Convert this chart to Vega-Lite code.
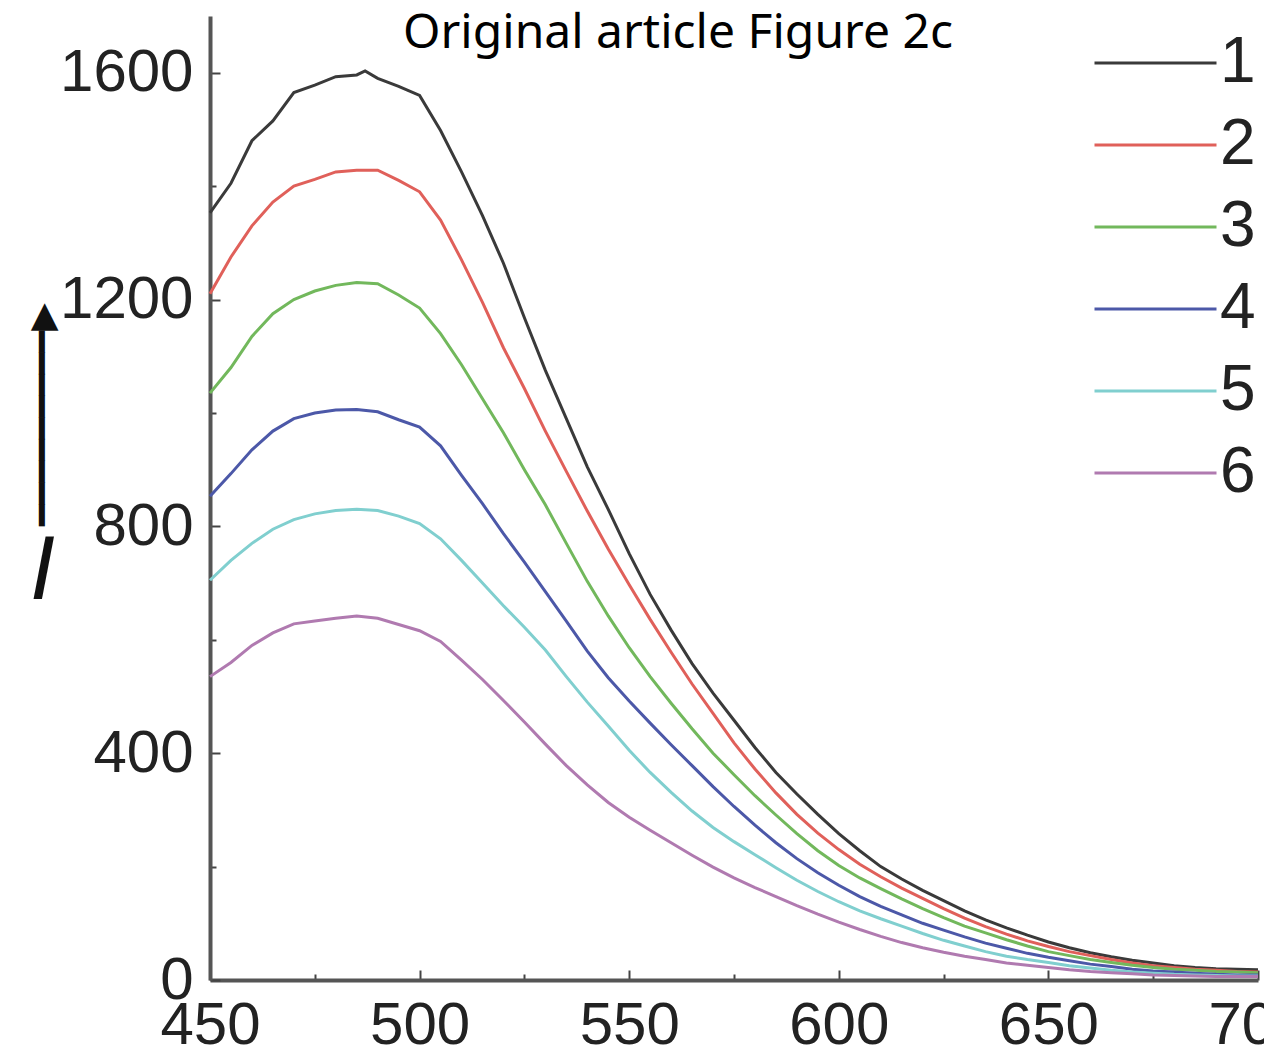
{
  "$schema": "https://vega.github.io/schema/vega-lite/v6.json",
  "width": 1048,
  "height": 964,
  "autosize": {"type": "none"},
  "padding": {"left": 210, "top": 16, "right": 6, "bottom": 65},
  "background": "white",
  "title": {
    "text": "Original article Figure 2c",
    "font": "Noto Sans",
    "fontSize": 48,
    "fontWeight": "normal",
    "color": "#000000",
    "anchor": "middle",
    "offset": 0,
    "dx": -56,
    "dy": 42
  },
  "config": {
    "view": {"stroke": null},
    "axis": {
      "labelFont": "Liberation Sans",
      "labelFontSize": 60,
      "labelColor": "#222222",
      "domainColor": "#555555",
      "domainWidth": 4,
      "tickColor": "#444444",
      "tickWidth": 2,
      "grid": false
    }
  },
  "data": {
    "values": [
      {"s":"1","w":450,"v":1353},{"s":"1","w":455,"v":1405},{"s":"1","w":460,"v":1480},{"s":"1","w":465,"v":1515},{"s":"1","w":470,"v":1565},{"s":"1","w":475,"v":1578},{"s":"1","w":480,"v":1593},{"s":"1","w":485,"v":1596},{"s":"1","w":487,"v":1603},{"s":"1","w":490,"v":1590},{"s":"1","w":495,"v":1576},{"s":"1","w":500,"v":1560},{"s":"1","w":505,"v":1498},{"s":"1","w":510,"v":1425},{"s":"1","w":515,"v":1348},{"s":"1","w":520,"v":1264},{"s":"1","w":525,"v":1168},{"s":"1","w":530,"v":1075},{"s":"1","w":535,"v":990},{"s":"1","w":540,"v":905},{"s":"1","w":545,"v":830},{"s":"1","w":550,"v":752},{"s":"1","w":555,"v":680},{"s":"1","w":560,"v":617},{"s":"1","w":565,"v":558},{"s":"1","w":570,"v":506},{"s":"1","w":575,"v":458},{"s":"1","w":580,"v":410},{"s":"1","w":585,"v":366},{"s":"1","w":590,"v":328},{"s":"1","w":595,"v":292},{"s":"1","w":600,"v":258},{"s":"1","w":605,"v":228},{"s":"1","w":610,"v":200},{"s":"1","w":615,"v":178},{"s":"1","w":620,"v":158},{"s":"1","w":625,"v":140},{"s":"1","w":630,"v":122},{"s":"1","w":635,"v":106},{"s":"1","w":640,"v":92},{"s":"1","w":645,"v":79},{"s":"1","w":650,"v":67},{"s":"1","w":655,"v":57},{"s":"1","w":660,"v":48},{"s":"1","w":665,"v":41},{"s":"1","w":670,"v":35},{"s":"1","w":675,"v":30},{"s":"1","w":680,"v":25},{"s":"1","w":685,"v":22},{"s":"1","w":690,"v":20},{"s":"1","w":695,"v":19},{"s":"1","w":700,"v":18},
      {"s":"2","w":450,"v":1210},{"s":"2","w":455,"v":1275},{"s":"2","w":460,"v":1330},{"s":"2","w":465,"v":1372},{"s":"2","w":470,"v":1400},{"s":"2","w":475,"v":1412},{"s":"2","w":480,"v":1425},{"s":"2","w":485,"v":1428},{"s":"2","w":490,"v":1428},{"s":"2","w":495,"v":1410},{"s":"2","w":500,"v":1390},{"s":"2","w":505,"v":1340},{"s":"2","w":510,"v":1270},{"s":"2","w":515,"v":1195},{"s":"2","w":520,"v":1115},{"s":"2","w":525,"v":1043},{"s":"2","w":530,"v":968},{"s":"2","w":535,"v":897},{"s":"2","w":540,"v":827},{"s":"2","w":545,"v":760},{"s":"2","w":550,"v":697},{"s":"2","w":555,"v":636},{"s":"2","w":560,"v":578},{"s":"2","w":565,"v":522},{"s":"2","w":570,"v":470},{"s":"2","w":575,"v":418},{"s":"2","w":580,"v":372},{"s":"2","w":585,"v":330},{"s":"2","w":590,"v":292},{"s":"2","w":595,"v":259},{"s":"2","w":600,"v":230},{"s":"2","w":605,"v":204},{"s":"2","w":610,"v":182},{"s":"2","w":615,"v":162},{"s":"2","w":620,"v":144},{"s":"2","w":625,"v":126},{"s":"2","w":630,"v":109},{"s":"2","w":635,"v":94},{"s":"2","w":640,"v":81},{"s":"2","w":645,"v":69},{"s":"2","w":650,"v":59},{"s":"2","w":655,"v":50},{"s":"2","w":660,"v":43},{"s":"2","w":665,"v":36},{"s":"2","w":670,"v":30},{"s":"2","w":675,"v":25},{"s":"2","w":680,"v":22},{"s":"2","w":685,"v":19},{"s":"2","w":690,"v":17},{"s":"2","w":695,"v":15},{"s":"2","w":700,"v":14},
      {"s":"3","w":450,"v":1035},{"s":"3","w":455,"v":1080},{"s":"3","w":460,"v":1135},{"s":"3","w":465,"v":1175},{"s":"3","w":470,"v":1200},{"s":"3","w":475,"v":1215},{"s":"3","w":480,"v":1225},{"s":"3","w":485,"v":1230},{"s":"3","w":490,"v":1228},{"s":"3","w":495,"v":1208},{"s":"3","w":500,"v":1185},{"s":"3","w":505,"v":1140},{"s":"3","w":510,"v":1085},{"s":"3","w":515,"v":1025},{"s":"3","w":520,"v":965},{"s":"3","w":525,"v":900},{"s":"3","w":530,"v":838},{"s":"3","w":535,"v":770},{"s":"3","w":540,"v":703},{"s":"3","w":545,"v":642},{"s":"3","w":550,"v":586},{"s":"3","w":555,"v":535},{"s":"3","w":560,"v":488},{"s":"3","w":565,"v":443},{"s":"3","w":570,"v":400},{"s":"3","w":575,"v":362},{"s":"3","w":580,"v":325},{"s":"3","w":585,"v":291},{"s":"3","w":590,"v":258},{"s":"3","w":595,"v":228},{"s":"3","w":600,"v":202},{"s":"3","w":605,"v":180},{"s":"3","w":610,"v":161},{"s":"3","w":615,"v":143},{"s":"3","w":620,"v":126},{"s":"3","w":625,"v":110},{"s":"3","w":630,"v":95},{"s":"3","w":635,"v":83},{"s":"3","w":640,"v":71},{"s":"3","w":645,"v":60},{"s":"3","w":650,"v":50},{"s":"3","w":655,"v":43},{"s":"3","w":660,"v":36},{"s":"3","w":665,"v":31},{"s":"3","w":670,"v":26},{"s":"3","w":675,"v":22},{"s":"3","w":680,"v":19},{"s":"3","w":685,"v":17},{"s":"3","w":690,"v":15},{"s":"3","w":695,"v":14},{"s":"3","w":700,"v":13},
      {"s":"4","w":450,"v":853},{"s":"4","w":455,"v":893},{"s":"4","w":460,"v":935},{"s":"4","w":465,"v":968},{"s":"4","w":470,"v":990},{"s":"4","w":475,"v":1000},{"s":"4","w":480,"v":1005},{"s":"4","w":485,"v":1006},{"s":"4","w":490,"v":1002},{"s":"4","w":495,"v":988},{"s":"4","w":500,"v":975},{"s":"4","w":505,"v":942},{"s":"4","w":510,"v":890},{"s":"4","w":515,"v":840},{"s":"4","w":520,"v":787},{"s":"4","w":525,"v":737},{"s":"4","w":530,"v":685},{"s":"4","w":535,"v":633},{"s":"4","w":540,"v":580},{"s":"4","w":545,"v":533},{"s":"4","w":550,"v":492},{"s":"4","w":555,"v":453},{"s":"4","w":560,"v":415},{"s":"4","w":565,"v":378},{"s":"4","w":570,"v":341},{"s":"4","w":575,"v":306},{"s":"4","w":580,"v":273},{"s":"4","w":585,"v":242},{"s":"4","w":590,"v":214},{"s":"4","w":595,"v":189},{"s":"4","w":600,"v":167},{"s":"4","w":605,"v":147},{"s":"4","w":610,"v":130},{"s":"4","w":615,"v":115},{"s":"4","w":620,"v":100},{"s":"4","w":625,"v":88},{"s":"4","w":630,"v":76},{"s":"4","w":635,"v":65},{"s":"4","w":640,"v":56},{"s":"4","w":645,"v":47},{"s":"4","w":650,"v":40},{"s":"4","w":655,"v":34},{"s":"4","w":660,"v":28},{"s":"4","w":665,"v":24},{"s":"4","w":670,"v":19},{"s":"4","w":675,"v":16},{"s":"4","w":680,"v":14},{"s":"4","w":685,"v":12},{"s":"4","w":690,"v":10},{"s":"4","w":695,"v":9},{"s":"4","w":700,"v":9},
      {"s":"5","w":450,"v":705},{"s":"5","w":455,"v":740},{"s":"5","w":460,"v":770},{"s":"5","w":465,"v":795},{"s":"5","w":470,"v":812},{"s":"5","w":475,"v":822},{"s":"5","w":480,"v":828},{"s":"5","w":485,"v":830},{"s":"5","w":490,"v":828},{"s":"5","w":495,"v":818},{"s":"5","w":500,"v":805},{"s":"5","w":505,"v":778},{"s":"5","w":510,"v":740},{"s":"5","w":515,"v":700},{"s":"5","w":520,"v":660},{"s":"5","w":525,"v":622},{"s":"5","w":530,"v":582},{"s":"5","w":535,"v":535},{"s":"5","w":540,"v":490},{"s":"5","w":545,"v":448},{"s":"5","w":550,"v":405},{"s":"5","w":555,"v":366},{"s":"5","w":560,"v":331},{"s":"5","w":565,"v":298},{"s":"5","w":570,"v":269},{"s":"5","w":575,"v":244},{"s":"5","w":580,"v":221},{"s":"5","w":585,"v":198},{"s":"5","w":590,"v":176},{"s":"5","w":595,"v":156},{"s":"5","w":600,"v":138},{"s":"5","w":605,"v":122},{"s":"5","w":610,"v":108},{"s":"5","w":615,"v":95},{"s":"5","w":620,"v":82},{"s":"5","w":625,"v":70},{"s":"5","w":630,"v":60},{"s":"5","w":635,"v":50},{"s":"5","w":640,"v":42},{"s":"5","w":645,"v":36},{"s":"5","w":650,"v":31},{"s":"5","w":655,"v":25},{"s":"5","w":660,"v":21},{"s":"5","w":665,"v":17},{"s":"5","w":670,"v":14},{"s":"5","w":675,"v":12},{"s":"5","w":680,"v":10},{"s":"5","w":685,"v":9},{"s":"5","w":690,"v":8},{"s":"5","w":695,"v":7},{"s":"5","w":700,"v":7},
      {"s":"6","w":450,"v":535},{"s":"6","w":455,"v":560},{"s":"6","w":460,"v":590},{"s":"6","w":465,"v":612},{"s":"6","w":470,"v":628},{"s":"6","w":475,"v":633},{"s":"6","w":480,"v":638},{"s":"6","w":485,"v":642},{"s":"6","w":490,"v":638},{"s":"6","w":495,"v":627},{"s":"6","w":500,"v":616},{"s":"6","w":505,"v":597},{"s":"6","w":510,"v":564},{"s":"6","w":515,"v":530},{"s":"6","w":520,"v":493},{"s":"6","w":525,"v":455},{"s":"6","w":530,"v":416},{"s":"6","w":535,"v":378},{"s":"6","w":540,"v":344},{"s":"6","w":545,"v":313},{"s":"6","w":550,"v":287},{"s":"6","w":555,"v":264},{"s":"6","w":560,"v":242},{"s":"6","w":565,"v":220},{"s":"6","w":570,"v":199},{"s":"6","w":575,"v":180},{"s":"6","w":580,"v":163},{"s":"6","w":585,"v":147},{"s":"6","w":590,"v":131},{"s":"6","w":595,"v":116},{"s":"6","w":600,"v":102},{"s":"6","w":605,"v":89},{"s":"6","w":610,"v":77},{"s":"6","w":615,"v":66},{"s":"6","w":620,"v":57},{"s":"6","w":625,"v":49},{"s":"6","w":630,"v":42},{"s":"6","w":635,"v":36},{"s":"6","w":640,"v":30},{"s":"6","w":645,"v":26},{"s":"6","w":650,"v":22},{"s":"6","w":655,"v":18},{"s":"6","w":660,"v":15},{"s":"6","w":665,"v":13},{"s":"6","w":670,"v":11},{"s":"6","w":675,"v":9},{"s":"6","w":680,"v":8},{"s":"6","w":685,"v":7},{"s":"6","w":690,"v":6},{"s":"6","w":695,"v":6},{"s":"6","w":700,"v":6}
    ]
  },
  "layer": [
    {
      "mark": {"type": "line", "strokeOpacity": 0},
      "encoding": {
        "x": {
          "field": "w", "type": "quantitative",
          "scale": {"domain": [450, 700], "nice": false, "zero": false},
          "axis": {
            "orient": "bottom", "values": [475, 525, 575, 625, 675],
            "labels": false, "domain": false, "tickSize": -6, "title": null
          }
        },
        "y": {
          "field": "v", "type": "quantitative",
          "scale": {"domain": [0, 1700], "nice": false},
          "axis": {
            "orient": "left", "values": [200, 600, 1000, 1400],
            "labels": false, "domain": false, "tickSize": -6,
            "title": "━━━━━━━━━▶",
            "titleFont": "DejaVu Sans",
            "titleFontSize": 36,
            "titleFontWeight": "normal",
            "titleColor": "#111111",
            "titleAngle": -90,
            "titleAlign": "center",
            "titleBaseline": "middle",
            "titleX": -168,
            "titleY": 398
          }
        },
        "detail": {"field": "s"}
      }
    },
    {
      "mark": {"type": "line", "strokeWidth": 3},
      "encoding": {
        "x": {
          "field": "w", "type": "quantitative",
          "axis": {
            "orient": "bottom", "values": [450, 500, 550, 600, 650, 700],
            "format": "d",
            "tickSize": -10, "labelPadding": 26, "labelBaseline": "top",
            "labelFlush": false, "title": null
          }
        },
        "y": {
          "field": "v", "type": "quantitative",
          "axis": {
            "orient": "left", "values": [0, 400, 800, 1200, 1600],
            "format": "d",
            "tickSize": -10, "labelPadding": 27, "labelFlush": false,
            "title": "I",
            "titleFont": "Liberation Sans",
            "titleFontStyle": "italic",
            "titleFontWeight": "normal",
            "titleFontSize": 90,
            "titleColor": "#111111",
            "titleAngle": 0,
            "titleAlign": "center",
            "titleBaseline": "middle",
            "titleX": -168,
            "titleY": 555
          }
        },
        "color": {
          "field": "s", "type": "nominal",
          "scale": {
            "domain": ["1", "2", "3", "4", "5", "6"],
            "range": ["#3a3a3a", "#e0605a", "#72b85c", "#4c58a8", "#80cfcf", "#b07ab0"]
          },
          "legend": {
            "orient": "none",
            "legendX": 883,
            "legendY": 6,
            "title": null,
            "symbolType": "stroke",
            "symbolSize": 14884,
            "symbolStrokeWidth": 3,
            "clipHeight": 82,
            "labelFont": "Liberation Sans",
            "labelFontSize": 64,
            "labelColor": "#222222",
            "labelOffset": 2,
            "rowPadding": 0,
            "padding": 0
          }
        }
      }
    }
  ],
  "resolve": {"axis": {"x": "independent", "y": "independent"}}
}
